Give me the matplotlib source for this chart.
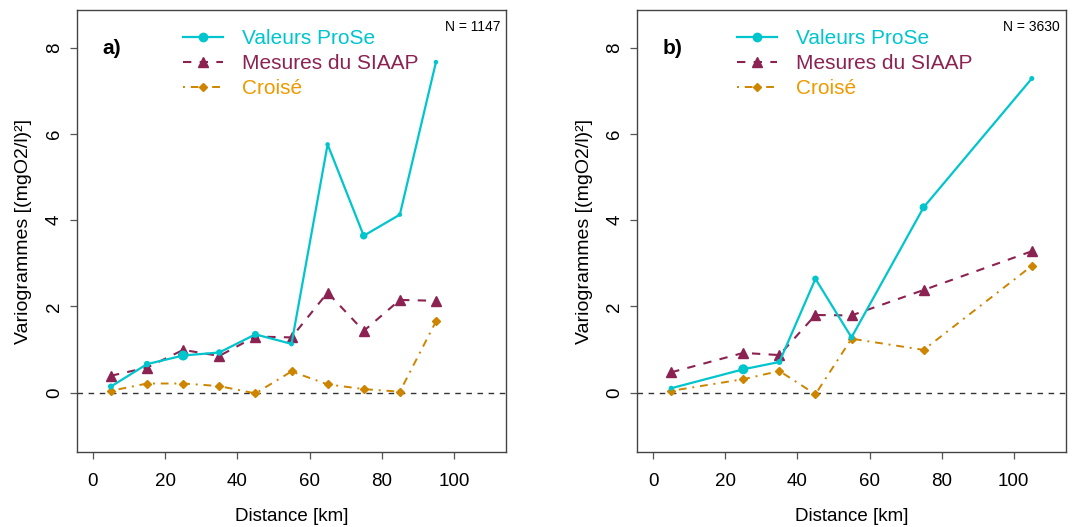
import matplotlib
matplotlib.use("Agg")
import matplotlib.pyplot as plt
from matplotlib.lines import Line2D

plt.rcParams['font.family'] = ['Liberation Sans', 'DejaVu Sans']

# ---------------- data ----------------
dist_a = [5, 15, 25, 35, 45, 55, 65, 75, 85, 95]
prose_a = [0.14, 0.66, 0.86, 0.93, 1.35, 1.13, 5.76, 3.64, 4.13, 7.67]
siaap_a = [0.39, 0.58, 0.99, 0.85, 1.30, 1.28, 2.32, 1.43, 2.15, 2.13]
crois_a = [0.04, 0.21, 0.21, 0.15, -0.02, 0.49, 0.19, 0.08, 0.02, 1.65]
weight_a = [6, 6.5, 10, 6.5, 7, 5, 4.5, 7.5, 4.5, 4.5]   # relative point weights (marker diameter, px)
n_a = "N = 1147"

dist_b = [5, 25, 35, 45, 55, 75, 105]
prose_b = [0.10, 0.54, 0.71, 2.64, 1.28, 4.30, 7.29]
siaap_b = [0.47, 0.92, 0.87, 1.80, 1.79, 2.38, 3.28]
crois_b = [0.04, 0.31, 0.50, -0.04, 1.25, 0.99, 2.94]
weight_b = [5, 10, 6, 6.5, 6, 8, 5]
n_b = "N = 3630"

labels = ["Valeurs ProSe", "Mesures du SIAAP", "Croisé"]
panel_tags = ["a)", "b)"]
xticks = [0, 20, 40, 60, 80, 100]
yticks = [0, 2, 4, 6, 8]

# ---------------- style ----------------
c_cyan = '#00C5CD'
c_maroon = '#8B2252'
c_orange = '#CD8500'
c_orange_txt = '#EE9A00'

fig = plt.figure(figsize=(10.88, 5.27), dpi=100)
axes_pos = [[77/1088, 1-452/527, 429/1088, 442/527],
            [637.3/1088, 1-452/527, 428.4/1088, 442/527]]

datasets = [(dist_a, prose_a, siaap_a, crois_a, weight_a, n_a),
            (dist_b, prose_b, siaap_b, crois_b, weight_b, n_b)]

for i, (pos, (d, pr, si, cr, w, ntxt)) in enumerate(zip(axes_pos, datasets)):
    ax = fig.add_axes(pos)
    ax.set_xlim(-4.4, 114.4)
    ax.set_ylim(-1.38, 8.88)
    ax.axhline(0, color='#333333', lw=1.0, ls=(0, (4, 4)), zorder=1)

    ax.plot(d, cr, color=c_orange, lw=1.4, ls=(0, (1, 3, 4, 3)), zorder=2)
    ax.plot(d, cr, ls='none', marker='D', ms=4, color=c_orange, zorder=3)
    ax.plot(d, si, color=c_maroon, lw=1.5, ls=(0, (4, 4)), zorder=3)
    ax.plot(d, si, ls='none', marker='^', ms=7, color=c_maroon, zorder=4)
    ax.plot(d, pr, color=c_cyan, lw=1.6, zorder=5)
    ax.scatter(d, pr, s=[(x / 1.389) ** 2 for x in w], color=c_cyan, zorder=6, linewidths=0)

    ax.set_xticks(xticks)
    ax.set_yticks(yticks)
    ax.tick_params(axis='both', direction='out', length=5, width=0.9,
                   color='#555555', labelsize=13.5)
    ax.tick_params(axis='x', pad=10)
    ax.tick_params(axis='y', pad=5)
    for lab in ax.get_yticklabels():
        lab.set_rotation(90)
        lab.set_va('center')
    for sp in ax.spines.values():
        sp.set_color('#444444')
        sp.set_linewidth(1.0)

    ax.set_xlabel("Distance [km]", fontsize=13.5, labelpad=13)
    ax.set_ylabel("Variogrammes [(mgO2/l)²]", fontsize=14, labelpad=10)

    ax.text(0.058, 0.914, panel_tags[i], transform=ax.transAxes, fontsize=15,
            fontweight='bold', ha='left', va='center')
    ax.text(0.987, 0.962, ntxt, transform=ax.transAxes, fontsize=10,
            ha='right', va='center')

    handles = [
        Line2D([], [], color=c_cyan, lw=1.6, marker='o', ms=6),
        Line2D([], [], color=c_maroon, lw=1.5, ls=(0, (4, 4)), marker='^', ms=7),
        Line2D([], [], color=c_orange, lw=1.4, ls=(0, (1, 3, 4, 3)), marker='D', ms=4),
    ]
    lx = 0.247 if i == 0 else 0.233
    ax.legend(handles, labels, loc='upper left', bbox_to_anchor=(lx, 0.957),
              frameon=False, fontsize=15, handlelength=1.9, handletextpad=0.95,
              labelspacing=0.29, borderpad=0, borderaxespad=0,
              labelcolor=[c_cyan, c_maroon, c_orange_txt])

fig.savefig("out.png", dpi=100)
